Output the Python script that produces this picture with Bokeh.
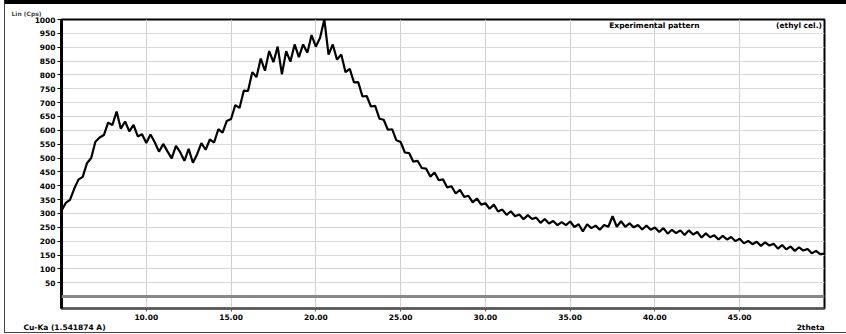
from bokeh.plotting import figure
from bokeh.models import FixedTicker, Label, Span, LinearAxis
from bokeh.embed import file_html
from bokeh.resources import INLINE

two_theta = [
    5.0, 5.25, 5.5, 5.75, 6.0, 6.25, 6.5, 6.75, 7.0, 7.25, 7.5, 7.75, 8.0, 8.25, 8.5, 8.75,
    9.0, 9.25, 9.5, 9.75, 10.0, 10.25, 10.5, 10.75, 11.0, 11.25, 11.5, 11.75, 12.0, 12.25, 12.5, 12.75,
    13.0, 13.25, 13.5, 13.75, 14.0, 14.25, 14.5, 14.75, 15.0, 15.25, 15.5, 15.75, 16.0, 16.25, 16.5, 16.75,
    17.0, 17.25, 17.5, 17.75, 18.0, 18.25, 18.5, 18.75, 19.0, 19.25, 19.5, 19.75, 20.0, 20.25, 20.5, 20.75,
    21.0, 21.25, 21.5, 21.75, 22.0, 22.25, 22.5, 22.75, 23.0, 23.25, 23.5, 23.75, 24.0, 24.25, 24.5, 24.75,
    25.0, 25.25, 25.5, 25.75, 26.0, 26.25, 26.5, 26.75, 27.0, 27.25, 27.5, 27.75, 28.0, 28.25, 28.5, 28.75,
    29.0, 29.25, 29.5, 29.75, 30.0, 30.25, 30.5, 30.75, 31.0, 31.25, 31.5, 31.75, 32.0, 32.25, 32.5, 32.75,
    33.0, 33.25, 33.5, 33.75, 34.0, 34.25, 34.5, 34.75, 35.0, 35.25, 35.5, 35.75, 36.0, 36.25, 36.5, 36.75,
    37.0, 37.25, 37.5, 37.75, 38.0, 38.25, 38.5, 38.75, 39.0, 39.25, 39.5, 39.75, 40.0, 40.25, 40.5, 40.75,
    41.0, 41.25, 41.5, 41.75, 42.0, 42.25, 42.5, 42.75, 43.0, 43.25, 43.5, 43.75, 44.0, 44.25, 44.5, 44.75,
    45.0, 45.25, 45.5, 45.75, 46.0, 46.25, 46.5, 46.75, 47.0, 47.25, 47.5, 47.75, 48.0, 48.25, 48.5, 48.75,
    49.0, 49.25, 49.5, 49.75, 50.0,
]

counts = [
    310, 338, 349, 389, 422, 432, 481, 500, 559, 574, 583, 628, 619, 668, 606, 632,
    596, 620, 578, 586, 554, 585, 557, 523, 551, 524, 499, 544, 521, 490, 533, 483,
    514, 554, 530, 567, 556, 604, 592, 634, 641, 691, 681, 743, 742, 810, 792, 859,
    815, 886, 846, 902, 802, 886, 848, 910, 864, 910, 880, 944, 902, 934, 1000, 873,
    910, 855, 874, 810, 822, 773, 774, 722, 724, 686, 688, 642, 638, 602, 604, 564,
    558, 520, 518, 487, 490, 464, 462, 433, 448, 420, 423, 394, 398, 372, 385, 360,
    364, 340, 354, 332, 337, 317, 332, 307, 314, 295, 308, 290, 296, 279, 294, 280,
    285, 266, 280, 264, 273, 258, 269, 258, 271, 251, 261, 235, 261, 247, 256, 241,
    258, 252, 290, 252, 272, 252, 264, 250, 258, 242, 256, 241, 249, 233, 247, 227,
    241, 229, 239, 222, 239, 224, 233, 213, 228, 214, 221, 206, 219, 206, 215, 200,
    209, 192, 201, 189, 198, 183, 196, 184, 191, 173, 186, 170, 181, 165, 178, 166,
    172, 156, 165, 153, 155,
]

x_ticks = [10, 15, 20, 25, 30, 35, 40, 45]
x_tick_labels = ["10.00", "15.00", "20.00", "25.00", "30.00", "35.00", "40.00", "45.00"]
y_ticks = [50, 100, 150, 200, 250, 300, 350, 400, 450, 500, 550, 600, 650, 700, 750,
           800, 850, 900, 950, 1000]

FONT = "DejaVu Sans"

p = figure(width=842, height=333, x_range=(5, 50), y_range=(-43, 1000),
           output_backend="svg", toolbar_location=None,
           min_border_left=56, min_border_right=23, min_border_top=14, min_border_bottom=29)
p.background_fill_color = "white"
p.border_fill_color = "white"
p.outline_line_color = "black"
p.outline_line_width = 2

p.title.text = "Lin (Cps)"
p.title.align = "left"
p.title.offset = -50
p.title.standoff = 6
p.title.text_font = FONT
p.title.text_font_size = "6px"
p.title.text_font_style = "bold"

p.xaxis.ticker = FixedTicker(ticks=x_ticks)
p.xaxis.major_label_overrides = {t: l for t, l in zip(x_ticks, x_tick_labels)}
p.yaxis.ticker = FixedTicker(ticks=y_ticks)
for ax in (p.xaxis[0], p.yaxis[0]):
    ax.major_label_text_font = FONT
    ax.major_label_text_font_style = "bold"
    ax.major_label_text_color = "black"
    ax.minor_tick_line_color = None
    ax.major_tick_in = 0
    ax.major_label_standoff = 2
p.yaxis.major_label_text_font_size = "7.5px"
p.xaxis.major_label_text_font_size = "7.5px"
p.yaxis.axis_line_width = 3
p.yaxis.axis_line_color = "black"
p.yaxis.major_tick_out = 4
p.yaxis.major_tick_line_color = "black"
p.xaxis.axis_line_width = 2
p.xaxis.axis_line_color = "#555555"
p.xaxis.major_tick_out = 3
p.xaxis.major_tick_line_color = "#555555"

# bottom caption row drawn as a tick-label-only axis
cap_pos = [5.18, 49.18]
cap_text = ["Cu-Ka (1.541874 A)", "2theta"]
cap_axis = LinearAxis(ticker=FixedTicker(ticks=cap_pos),
                      major_label_overrides={t: s for t, s in zip(cap_pos, cap_text)},
                      axis_line_color=None, major_tick_line_color=None,
                      minor_tick_line_color=None, major_label_standoff=0,
                      major_tick_out=0, major_tick_in=0,
                      major_label_text_font=FONT, major_label_text_font_style="bold",
                      major_label_text_font_size="7.5px", major_label_text_color="black")
p.add_layout(cap_axis, "below")

p.xgrid.grid_line_color = "#cfcfcf"
p.ygrid.grid_line_color = "#d8d8d8"

p.add_layout(Span(location=0, dimension="width", line_color="#888888", line_width=3))

p.line(two_theta, counts, line_color="black", line_width=2.2)

def lab(x, y, text, align="left"):
    p.add_layout(Label(x=x, y=y, text=text, text_font=FONT, text_font_style="bold",
                       text_font_size="7.5px", text_color="black", text_align=align,
                       text_baseline="middle"))

lab(37.3, 978, "Experimental pattern")
lab(49.85, 978, "(ethyl cel.)", "right")

p.styles = {"border-top": "4px solid black", "border-left": "1px solid #444",
            "border-bottom": "1px solid #444", "margin-left": "4px"}

open("out.html", "w").write(file_html(p, INLINE))
